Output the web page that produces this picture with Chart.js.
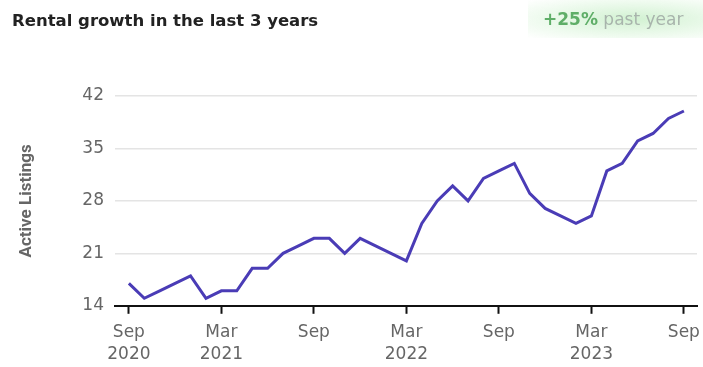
<!DOCTYPE html>
<html>
<head>
<meta charset="utf-8">
<script src="https://cdn.jsdelivr.net/npm/chart.js@4"></script>
<style>
  body { margin: 0; background: #fff; font-family: "DejaVu Sans", sans-serif; }
  #wrap { position: relative; width: 703px; height: 367px; overflow: hidden; }
  #titulo { position: absolute; left: 12px; top: 11px; font-size: 16.5px; font-weight: bold; color: #222; }
  #badge { position: absolute; right: 0; top: 0; width: 175px; height: 38px; line-height: 38px;
           background: radial-gradient(ellipse at 60% 50%, rgba(205,240,205,0.9) 0%, rgba(225,247,225,0.6) 60%, rgba(255,255,255,0) 100%);
           font-size: 17px; color: #a8b4ac; padding-left: 15px; box-sizing: border-box; }
  #badge b { color: #5fae68; }
  canvas { position: absolute; left: 0; top: 0; }
</style>
</head>
<body>
<div id="wrap">
  <canvas id="canvasDoThi" width="703" height="367"></canvas>
  <div id="titulo">Rental growth in the last 3 years</div>
  <div id="badge"><b>+25%</b> past year</div>
</div>
<script>
// du lieu
var thang = ["Sep 2020", "Oct 2020", "Nov 2020", "Dec 2020",
    "Jan 2021", "Feb 2021", "Mar 2021", "Apr 2021", "May 2021", "Jun 2021", "Jul 2021", "Aug 2021", "Sep 2021", "Oct 2021", "Nov 2021", "Dec 2021",
    "Jan 2022", "Feb 2022", "Mar 2022", "Apr 2022", "May 2022", "Jun 2022", "Jul 2022", "Aug 2022", "Sep 2022", "Oct 2022", "Nov 2022", "Dec 2022",
    "Jan 2023", "Feb 2023", "Mar 2023", "Apr 2023", "May 2023", "Jun 2023", "Jul 2023", "Aug 2023", "Sep 2023"];
var soTin = [17, 15, 16, 17, 18, 15, 16, 16, 19, 19, 21, 22, 23, 23, 21, 23,
    22, 21, 20, 25, 28, 30, 28, 31, 32, 33, 29, 27, 26, 25, 26, 32, 33, 36, 37, 39, 40];
var nhanX = { 0: ["Sep", "2020"], 6: ["Mar", "2021"], 12: ["Sep"], 18: ["Mar", "2022"], 24: ["Sep"], 30: ["Mar", "2023"], 36: ["Sep"] };
var nhanY = [14, 21, 28, 35, 42];

function VeDoThi() {
    var diem = soTin.map(function (v, i) { return { x: i, y: v } });

    new Chart("canvasDoThi", {
        type: "line",
        data: {
            labels: thang,
            datasets: [{
                data: diem,
                borderColor: "#4a3cb6",
                borderWidth: 3,
                pointRadius: 0,
                tension: 0,
                fill: false
            }]
        },
        options: {
            responsive: false,
            animation: false,
            layout: { padding: { left: 17, right: 6, top: 96, bottom: -7 } },
            plugins: { legend: { display: false }, tooltip: { enabled: false } },
            scales: {
                x: {
                    type: "linear",
                    min: -0.9,
                    max: 36.85,
                    afterBuildTicks: function (s) {
                        s.ticks = Object.keys(nhanX).map(function (k) { return { value: +k } })
                    },
                    afterFit: function (s) { s.paddingLeft = 0; s.paddingRight = 0 },
                    grid: { display: true, drawOnChartArea: false, drawTicks: true, tickLength: 8, tickWidth: 2, tickColor: "#111" },
                    border: { display: true, color: "#111", width: 2 },
                    ticks: {
                        autoSkip: false,
                        maxRotation: 0,
                        padding: 8,
                        color: "#666",
                        font: { family: "DejaVu Sans", size: 17, lineHeight: 1.3 },
                        callback: function (v) { return nhanX[v] }
                    }
                },
                y: {
                    min: 14,
                    max: 42,
                    afterBuildTicks: function (s) {
                        s.ticks = nhanY.map(function (v) { return { value: v } })
                    },
                    afterFit: function (s) { s.width = 98 },
                    grid: { color: "#e4e4e4", lineWidth: 1.5, drawTicks: false },
                    border: { display: false },
                    ticks: { padding: 11, color: "#666", font: { family: "DejaVu Sans", size: 17 } },
                    title: {
                        display: true,
                        text: "Active Listings",
                        color: "#666",
                        font: { family: "Roboto", size: 17, weight: "bold" },
                        padding: { top: 0, bottom: 0 }
                    }
                }
            }
        }
    });
}

VeDoThi()
</script>
</body>
</html>
